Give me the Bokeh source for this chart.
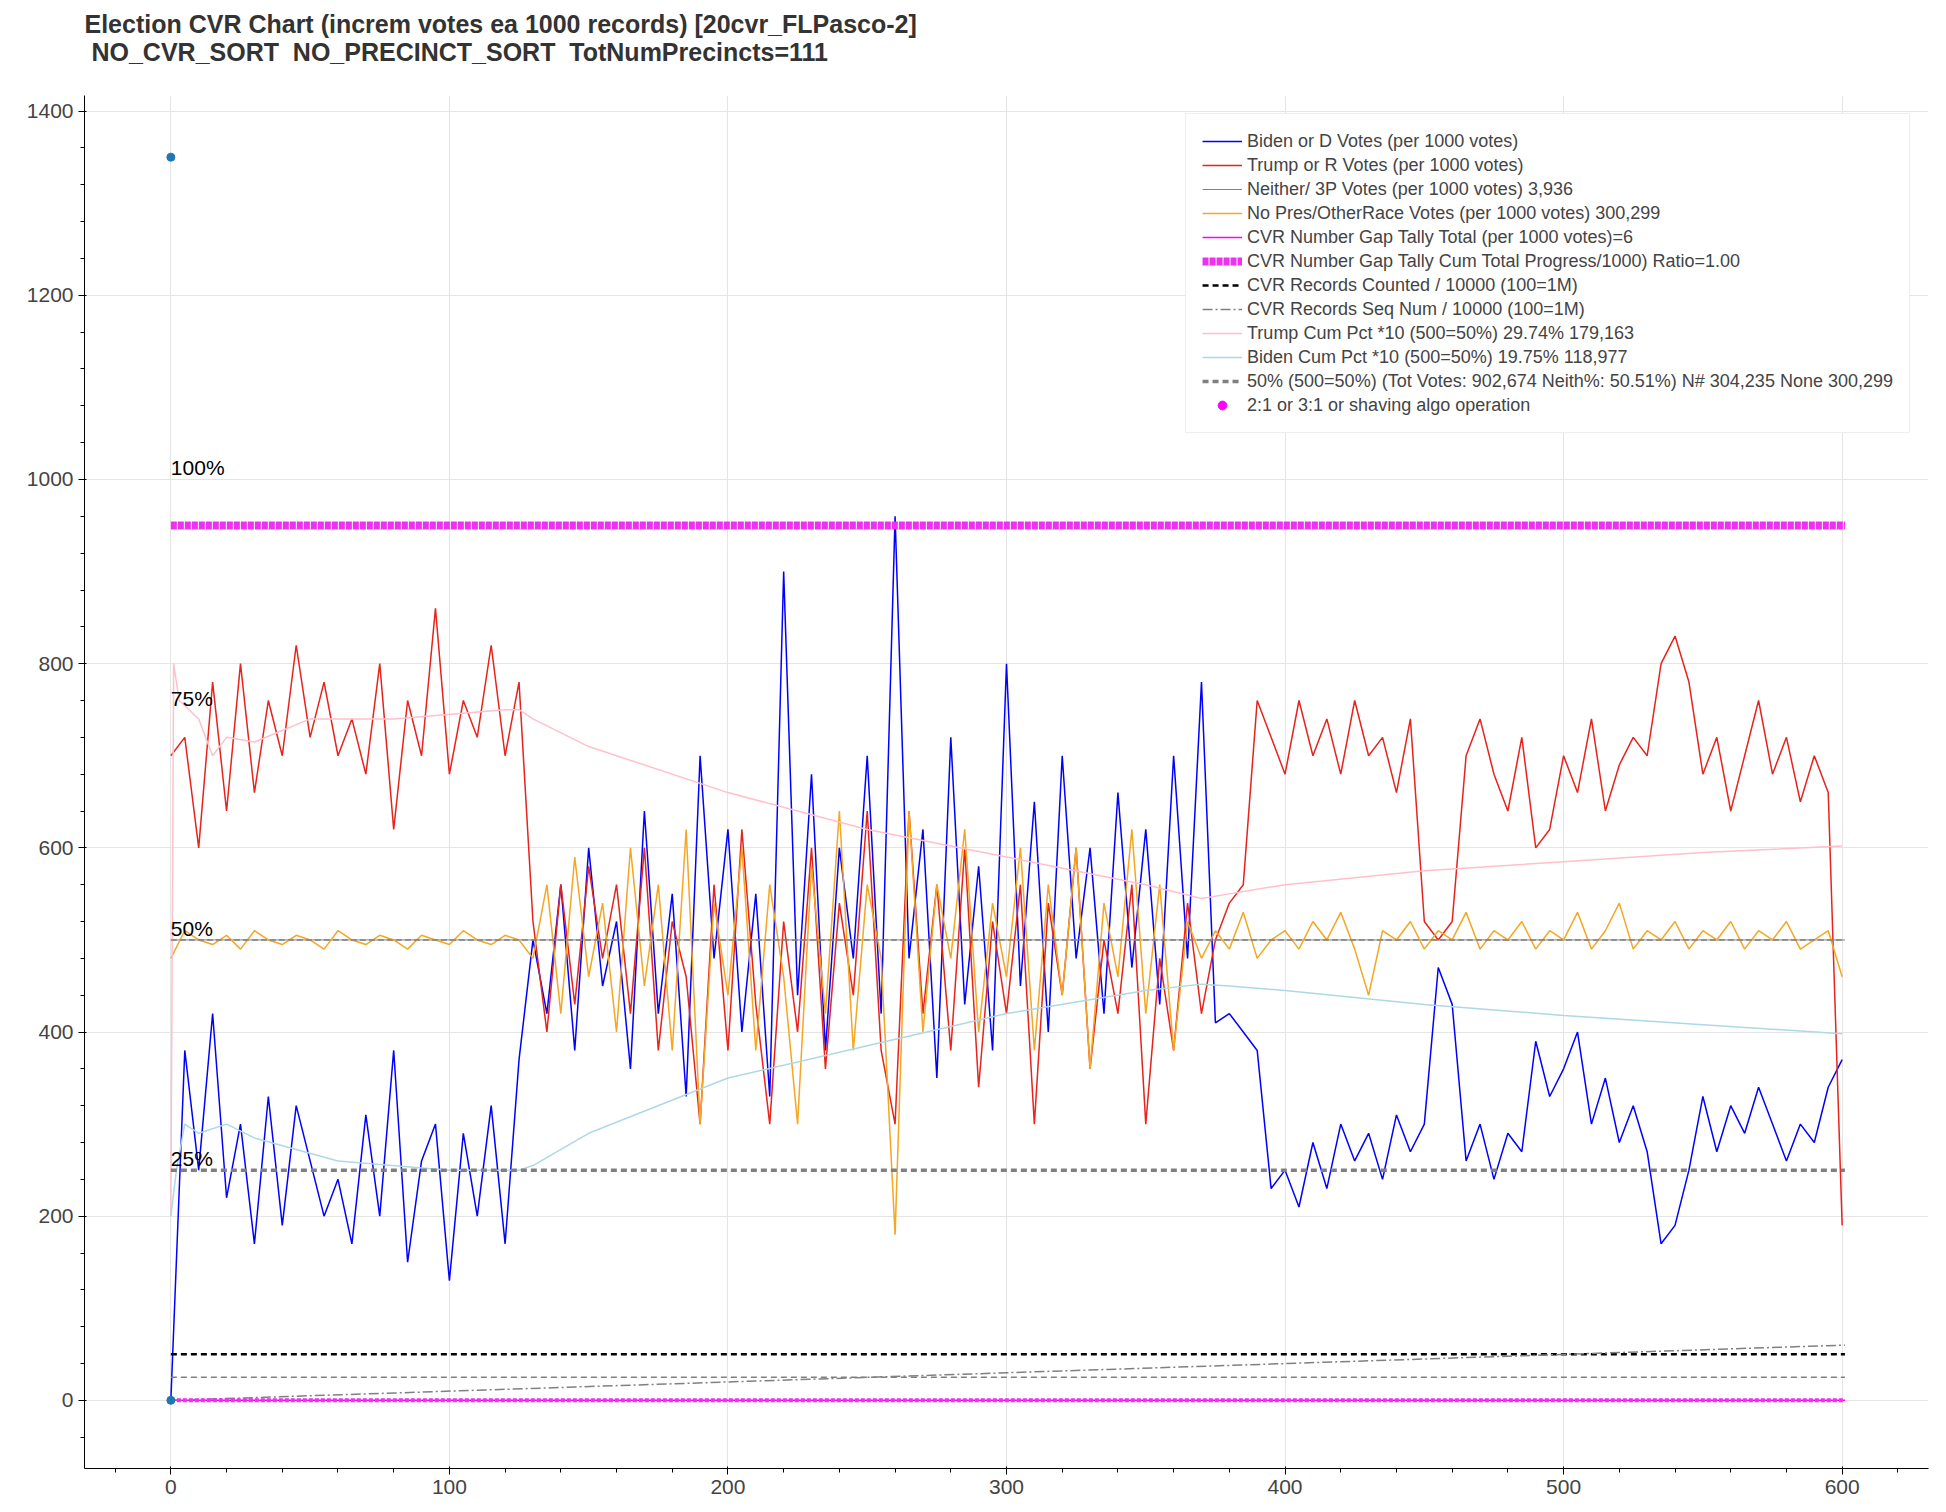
from bokeh.plotting import figure
from bokeh.embed import file_html
from bokeh.resources import INLINE
from bokeh.models import Range1d, Legend, Title
from bokeh.core.properties import value

title = "Election CVR Chart (increm votes ea 1000 records) [20cvr_FLPasco-2]\n\u00a0NO_CVR_SORT\u00a0\u00a0NO_PRECINCT_SORT\u00a0\u00a0TotNumPrecincts=111"

biden = [0,380,250,420,220,300,170,330,190,320,260,200,240,170,310,200,380,150,260,300,130,290,200,320,170,370,
         500,420,560,380,600,450,520,360,640,420,550,330,700,480,620,400,550,330,900,440,680,380,600,480,700,420,960,480,
         620,350,720,430,580,380,800,450,650,400,700,480,600,420,660,470,620,430,700,480,780,410,420,400,380,230,250,210,
         280,230,300,260,290,240,310,270,300,470,430,260,300,240,290,270,390,330,360,400,300,350,280,320,270,170,190,250,
         330,270,320,290,340,300,260,300,280,340,370]
trump = [700,720,600,780,640,800,660,760,700,820,720,780,700,740,680,800,620,760,700,860,680,760,720,820,700,780,
         520,400,560,430,580,480,560,420,600,380,520,460,300,560,380,620,430,300,520,400,600,360,540,440,640,380,300,640,
         420,560,380,600,340,520,420,560,300,540,440,600,360,500,420,560,300,480,380,540,420,500,540,560,760,720,680,760,
         700,740,680,760,700,720,660,740,520,500,520,700,740,680,640,720,600,620,700,660,740,640,690,720,700,800,830,780,
         680,720,640,700,760,680,720,650,700,660,190]
nopres = [480,510,500,495,505,490,510,500,495,505,500,490,510,500,495,505,500,490,505,500,495,510,500,495,505,500,
          480,560,420,590,460,540,400,600,450,560,380,620,300,540,440,600,380,560,460,300,580,420,640,380,560,480,180,640,
          400,560,480,620,400,540,460,600,380,560,440,600,360,540,460,620,420,560,380,520,480,510,490,530,480,500,510,490,
          520,500,530,490,440,510,500,520,490,510,500,530,490,510,500,520,490,510,500,530,490,510,540,490,510,500,520,490,
          510,500,520,490,510,500,520,490,500,510,460]
xs = [i * 5 for i in range(len(biden))]

pink_x = [0,1,3,10,15,20,30,50,80,120,125,130,150,200,250,300,350,370,380,400,450,500,550,600]
pink_y = [200,800,760,740,700,720,715,740,740,750,750,740,710,660,620,590,560,545,550,560,575,585,595,602]
lb_x = [0,2,5,10,20,30,60,100,125,130,150,200,250,300,350,370,380,400,450,500,550,600]
lb_y = [200,250,300,290,300,285,260,250,250,255,290,350,385,420,445,452,450,445,430,418,408,398]

span_x = [0, 601]
gap_total = [0, 0]
gap_cum = [950, 950]
rec_counted = [50, 50]
half_line = [500, 500]
quarter_line = [250, 250]
seq_y = [0, 60]
low_line = [25, 25]
pct_labels = ["100%", "75%", "50%", "25%"]
pct_y = [1000, 750, 500, 250]
dots_x = [0, 0]
dots_y = [1350, 0]
algo_x = [-100]
algo_y = [-1000]

p = figure(width=1930, height=1496, output_backend="svg", toolbar_location=None,
           title=title, x_range=Range1d(-31, 631), y_range=Range1d(-74, 1417),
           min_border_left=84, min_border_right=2, min_border_top=10)
p.title.text_font_size = "25px"
p.title.text_font_style = "bold"
p.title.text_color = "#333333"
p.title.offset = 0
p.title.standoff = 14
p.add_layout(Title(text="\u00a0", text_font_size="10px"), "above")
p.outline_line_color = None
p.xaxis.major_label_text_font_size = "21px"
p.yaxis.major_label_text_font_size = "21px"

items = []
r = p.line(xs, biden, color="blue", line_width=1.5); items.append(("Biden or D Votes (per 1000 votes)", [r]))
r = p.line(xs, trump, color="#e8221c", line_width=1.5); items.append(("Trump or R Votes (per 1000 votes)", [r]))
r = p.line(span_x, half_line, color="gray", line_width=1); items.append(("Neither/ 3P Votes (per 1000 votes) 3,936", [r]))
r = p.line(xs, nopres, color="#f5a623", line_width=1.5); items.append(("No Pres/OtherRace Votes (per 1000 votes) 300,299", [r]))
r = p.line(span_x, gap_total, color="magenta", line_width=1.5); items.append(("CVR Number Gap Tally Total (per 1000 votes)=6", [r]))
r = p.line(span_x, gap_cum, color="#f030f0", line_width=8, line_dash="6 1"); items.append(("CVR Number Gap Tally Cum Total Progress/1000) Ratio=1.00", [r]))
r = p.line(span_x, rec_counted, color="black", line_width=2.5, line_dash="6 4"); items.append(("CVR Records Counted / 10000 (100=1M)", [r]))
r = p.line(span_x, seq_y, color="gray", line_width=1.5, line_dash="10 3 2 3"); items.append(("CVR Records Seq Num / 10000 (100=1M)", [r]))
r = p.line(pink_x, pink_y, color="pink", line_width=1.5); items.append(("Trump Cum Pct *10 (500=50%) 29.74% 179,163", [r]))
r = p.line(lb_x, lb_y, color="lightblue", line_width=1.5); items.append(("Biden Cum Pct *10 (500=50%) 19.75% 118,977", [r]))
r = p.line(span_x, quarter_line, color="gray", line_width=3.5, line_dash="6 4"); items.append(("50% (500=50%) (Tot Votes: 902,674 Neith%: 50.51%) N# 304,235 None 300,299", [r]))
p.line(span_x, half_line, color="gray", line_width=1.5, line_dash="6 3")
p.line(span_x, low_line, color="gray", line_width=1.5, line_dash="6 4")
p.line(span_x, gap_total, color="#f030f0", line_width=4, line_dash="4 2")
r = p.scatter(algo_x, algo_y, color="magenta", size=6); items.append(("2:1 or 3:1 or shaving algo operation", [r]))
p.scatter(dots_x, dots_y, color="#1f77b4", size=8)
p.text([0]*4, pct_y, text=pct_labels, text_font_size="21px", text_baseline="bottom", text_font=value("Helvetica"))

leg = Legend(items=items, location="top_right")
leg.label_text_font_size = "18px"
leg.label_height = 22
leg.spacing = 2
leg.glyph_height = 22
leg.glyph_width = 40
leg.margin = 18
leg.padding = 16
leg.border_line_color = "#dddddd"
p.add_layout(leg)

open("out.html", "w").write(file_html(p, INLINE))
